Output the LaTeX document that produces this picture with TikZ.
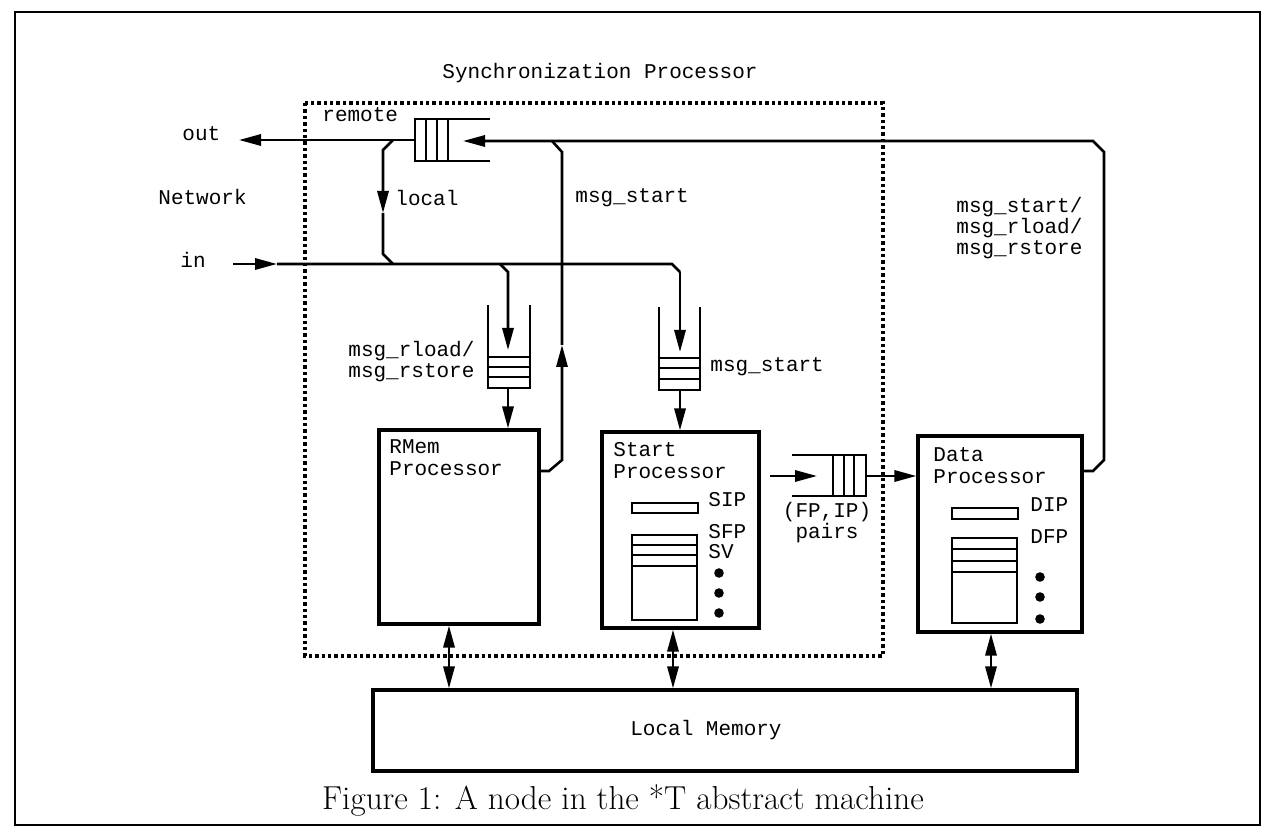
\documentclass[tikz,border=0pt]{standalone}
\usepackage{fontspec}
\setmonofont{Liberation Mono}
\usetikzlibrary{arrows.meta,calc}
\begin{document}
\begin{tikzpicture}[x=0.5pt,y=-0.5pt,
  ln/.style={line width=1.3pt},
  tip/.style={-{Triangle[length=11pt,width=5.6pt]}},
  bitip/.style={{Triangle[length=11pt,width=5.6pt]}-{Triangle[length=11pt,width=5.6pt]}},
  box/.style={draw,line width=1.6pt,inner sep=0pt,rectangle},
  lbl/.style={font=\ttfamily\fontsize{10.5}{10.5}\selectfont,inner sep=0pt,align=left},
  blbl/.style={font=\ttfamily\fontsize{10.5}{11}\selectfont,inner sep=0pt,align=left,anchor=north west},
  syncbox/.style={line width=1.7pt,dash pattern=on 1.7pt off 1.5pt}
]
\useasboundingbox (0,0) rectangle (1269,833);
% outer frame
\draw[line width=1pt] (15,12) rectangle (1260,825);
% synchronization processor border
\draw[syncbox] (305,103) rectangle (883,656);
\node[lbl] (synct) at (600,73) {Synchronization Processor};

% processor boxes
\node[box,minimum width=80pt,minimum height=97pt] (rmem) at (459,527) {};
\node[box,minimum width=78.5pt,minimum height=98pt] (start) at (680.5,530) {};
\node[box,minimum width=82pt,minimum height=98pt] (data) at (1000,534) {};
\node[box,minimum width=352pt,minimum height=40.5pt] (lm) at (725,730.5) {};
\node[lbl] (lmt) at (706,730) {Local Memory};
\node[blbl] (rmeml) at (389,439) {RMem\\Processor};
\node[blbl] (startl) at (613,442) {Start\\Processor};
\node[blbl] (datal) at (933,447) {Data\\Processor};

% registers in start processor
\draw[ln] (632,503) rectangle (698,513);
\draw[ln] (632,535) rectangle (697,620);
\foreach \yy in {545,555,566} \draw[ln] (632,\yy) -- (697,\yy);
\foreach \yy in {573,593,613} \fill (719,\yy) circle (2.4pt);
\node[lbl,anchor=west] (sip) at (708,500) {SIP};
\node[lbl,anchor=west] (sfp) at (708,532) {SFP};
\node[lbl,anchor=west] (sv) at (708,552) {SV};

% registers in data processor
\draw[ln] (952,508) rectangle (1018,519);
\draw[ln] (952,538) rectangle (1017,623);
\foreach \yy in {549,561,572} \draw[ln] (952,\yy) -- (1017,\yy);
\foreach \yy in {577,597,619} \fill (1040,\yy) circle (2.4pt);
\node[lbl,anchor=west] (dip) at (1030,505) {DIP};
\node[lbl,anchor=west] (dfp) at (1030,537) {DFP};

% remote queue (opens to the right)
\draw[ln] (490,119) -- (415,119) -- (415,161) -- (490,161);
\foreach \xx in {426,437,448} \draw[ln] (\xx,119) -- (\xx,161);
% msg_rload queue (opens upward)
\draw[ln] (488,305) -- (488,388) -- (530,388) -- (530,305);
\foreach \yy in {357,367,377} \draw[ln] (488,\yy) -- (530,\yy);
% msg_start queue (opens upward)
\draw[ln] (659,307) -- (659,390) -- (700,390) -- (700,307);
\foreach \yy in {358,368,379} \draw[ln] (659,\yy) -- (700,\yy);
% (FP,IP) queue (opens to the left)
\draw[ln] (792,455) -- (866,455) -- (866,496) -- (792,496);
\foreach \xx in {833,844,854} \draw[ln] (\xx,455) -- (\xx,496);

% coordinates
\coordinate (q0w) at (415,140);
\coordinate (outend) at (239,140);
\coordinate (q0in) at (463,141);
\coordinate (inst) at (233,264);
\coordinate (rmo) at (539,471);
\coordinate (dao) at (1082,471);
\coordinate (q1b) at (508,388);
\coordinate (q2b) at (680,390);
\coordinate (fpo) at (866,476);
\coordinate (y476) at (0,476);
\coordinate (bx1) at (449,0);
\coordinate (bx2) at (673,0);
\coordinate (bx3) at (991,0);

% labels
\node[lbl,anchor=west] (remote) at (322,115) {remote};
\node[lbl,anchor=west] (out) at (182,134) {out};
\node[lbl,anchor=west] (net) at (158,197) {Network};
\node[lbl,anchor=west] (inl) at (180,260) {in};
\node[lbl,anchor=west] (local) at (395,198) {local};
\node[lbl,anchor=west] (ms1) at (575,198) {msg\_start};
\node[lbl,anchor=west] (mrl) at (348,362) {msg\_rload/\\msg\_rstore};
\node[lbl,anchor=west] (ms2) at (710,367) {msg\_start};
\node[lbl,anchor=west] (mall) at (956,228) {msg\_start/\\msg\_rload/\\msg\_rstore};
\node[lbl,align=center] (fpip) at (827,523) {(FP,IP)\\pairs};

% connectors
\draw[ln,tip] (q0w) -- (outend);
\draw[ln] (393,140) -- (383,150) -- (383,195);
\draw[ln,tip] (383,190) -- (383,213);
\draw[ln] (383,213) -- (383,254) -- (393,264);
\draw[ln,tip] (inst) -- (277,264);
\draw[ln] (277,264) -- (672,264) -- (680,272);
\draw[ln,tip] (680,272) -- (680,352);
\draw[ln,tip] (500,264) -- (508,272) -- (508,350);
\draw[ln,tip] (rmo) -- (549,471) -- (562,460) -- (562,345);
\draw[ln] (562,345) -- (562,152) -- (552,141);
\draw[ln,tip] (dao) -- (1093,471) -- (1104,460) -- (1104,152) -- (1093,141) -- (q0in);
\draw[ln,tip] (q1b) -- (q1b |- rmem.north);
\draw[ln,tip] (q2b) -- (q2b |- start.north);
\draw[ln,tip] (770,476) -- (817,476);
\draw[ln,tip] (fpo) -- (data.west |- y476);
\draw[ln,bitip] (bx1 |- rmem.south) -- (bx1 |- lm.north);
\draw[ln,bitip] (bx2 |- start.south) -- (bx2 |- lm.north);
\draw[ln,bitip] (bx3 |- data.south) -- (bx3 |- lm.north);

% caption
\node[font=\fontsize{16.6}{19}\selectfont,inner sep=0pt] (cap) at (623,800) {Figure 1: A node in the *T abstract machine};
\end{tikzpicture}
\end{document}
